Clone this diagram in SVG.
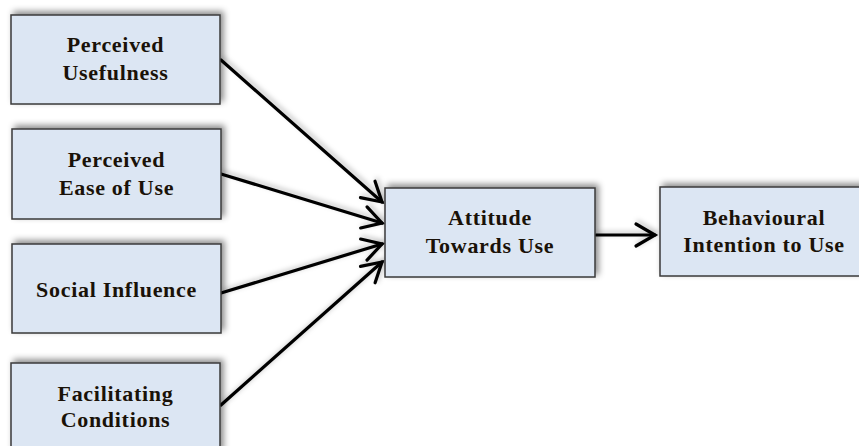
<svg xmlns="http://www.w3.org/2000/svg" width="859" height="446" viewBox="0 0 859 446">
<style>
.box{fill:#dce6f3;stroke:#3a3a3a;stroke-width:1.5;filter:url(#sh)}
.t{font-family:"Liberation Serif","Times New Roman",serif;font-weight:bold;font-size:22px;letter-spacing:0.7px;fill:#1a1208;text-anchor:middle}
.c{stroke:#000;stroke-width:3.2;fill:none;stroke-linecap:round}
</style>
<defs>
<filter id="sh" x="-20%" y="-30%" width="140%" height="160%">
<feDropShadow dx="3" dy="-3" stdDeviation="3" flood-color="#000" flood-opacity="0.45"/>
</filter>
<filter id="lsh" x="-20%" y="-20%" width="140%" height="140%">
<feDropShadow dx="2" dy="-2" stdDeviation="2.5" flood-color="#000" flood-opacity="0.25"/>
</filter>
<marker id="ah" viewBox="0 0 16 16" refX="15" refY="8" markerWidth="16" markerHeight="16" markerUnits="userSpaceOnUse" orient="auto" overflow="visible">
<path d="M-4,-3 L15,8 L-4,19" fill="none" stroke="#000" stroke-width="3.2" stroke-linecap="round" stroke-linejoin="miter"/>
</marker>
</defs>
<rect width="859" height="446" fill="#fff"/>
<g id="connectors" filter="url(#lsh)">
<line class="c" x1="221" y1="60" x2="382" y2="202" marker-end="url(#ah)"/>
<line class="c" x1="221" y1="174" x2="382" y2="223" marker-end="url(#ah)"/>
<line class="c" x1="221" y1="293" x2="382" y2="244" marker-end="url(#ah)"/>
<line class="c" x1="221" y1="405" x2="382" y2="262" marker-end="url(#ah)"/>
<line class="c" x1="596" y1="235" x2="655" y2="235" marker-end="url(#ah)"/>
</g>
<g id="pu">
<rect class="box" x="11" y="15" width="209" height="89"/>
<text class="t" x="115.5" y="52">Perceived</text>
<text class="t" x="115.5" y="80">Usefulness</text>
</g>
<g id="peou">
<rect class="box" x="12" y="129" width="209" height="90"/>
<text class="t" x="116.5" y="167">Perceived</text>
<text class="t" x="116.5" y="195">Ease of Use</text>
</g>
<g id="si">
<rect class="box" x="12" y="244" width="209" height="89"/>
<text class="t" x="116.5" y="297">Social Influence</text>
</g>
<g id="fc">
<rect class="box" x="11" y="363" width="209" height="90"/>
<text class="t" x="115.5" y="401">Facilitating</text>
<text class="t" x="115.5" y="427">Conditions</text>
</g>
<g id="atu">
<rect class="box" x="385" y="188" width="210" height="89"/>
<text class="t" x="490" y="225">Attitude</text>
<text class="t" x="490" y="253">Towards Use</text>
</g>
<g id="biu">
<rect class="box" x="660" y="187" width="210" height="89"/>
<text class="t" x="764" y="225">Behavioural</text>
<text class="t" x="764" y="252">Intention to Use</text>
</g>
</svg>
